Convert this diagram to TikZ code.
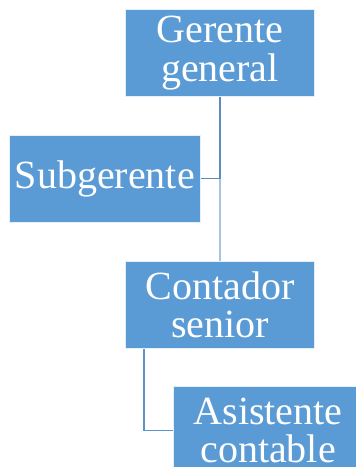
\documentclass[tikz,border=0pt]{standalone}
\usepackage{fontspec}
\setmainfont{Liberation Serif}
\definecolor{boxblue}{HTML}{5B9BD5}
\definecolor{linedark}{HTML}{5A8CBF}
\definecolor{linelight}{HTML}{A9C3DE}
\definecolor{linemid}{HTML}{5B93CF}
\begin{document}
\begin{tikzpicture}[x=1pt,y=-1pt,
  orgbox/.style={rectangle, fill=boxblue, draw=white!85!boxblue, line width=0.8pt,
    minimum width=189.4pt, minimum height=87.4pt, inner sep=0pt,
    text=white, align=center, font=\fontsize{40}{38.5}\selectfont},
  conn/.style={line width=1.4pt}]
\clip (0,0) rectangle (356,467);
\fill[white] (0,0) rectangle (356,467);
\node[orgbox] (gg) at (220,53) {Gerente\\general};
\node[orgbox, minimum width=191pt] (sub) at (104.8,178.7) {\raisebox{-3.5pt}{Subgerente}};
\node[orgbox] (cs) at (220,304.7) {Contador\\senior};
\node[orgbox] (ac) at (268,430.4) {Asistente\\contable};
\coordinate (j) at (gg.south |- sub.east);
\draw[conn, linedark] (gg.south) -- (j);
\draw[conn, linedark] (sub.east) -- (j);
\draw[conn, linelight] (j) -- (cs.north);
\coordinate (k) at (144,430.7);
\draw[conn, linemid] (cs.south -| k) -- (k) -- (k -| ac.west);
\end{tikzpicture}
\end{document}
